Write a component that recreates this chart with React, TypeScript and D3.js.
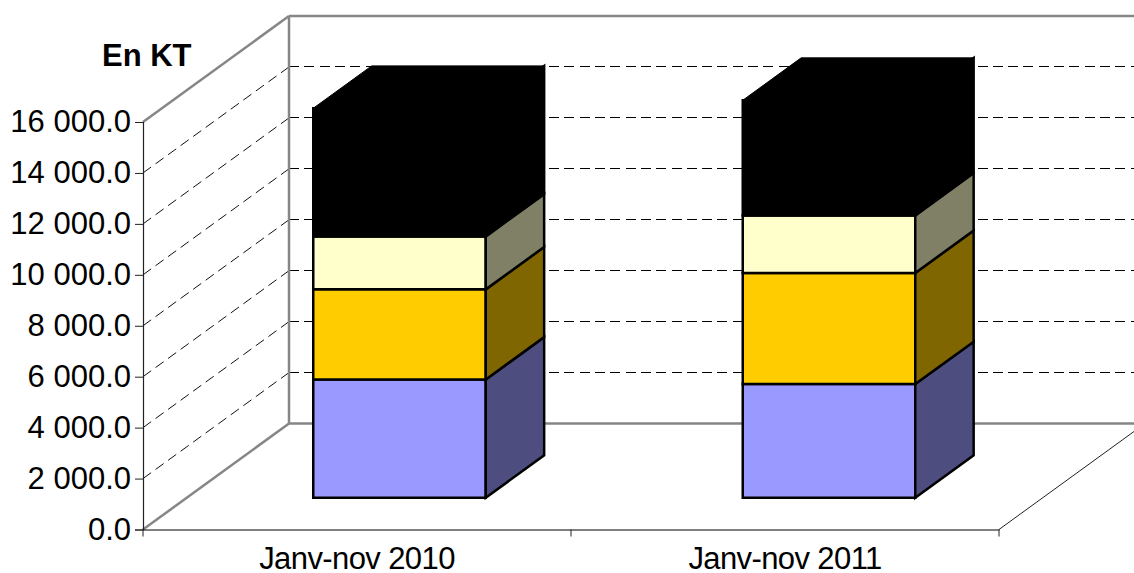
import * as d3 from "d3";
import { useEffect, useRef } from "react";

const categories = ["Janv-nov 2010", "Janv-nov 2011"];
const blue = [4640, 4460];
const orange = [3540, 4365];
const cream = [2080, 2260];
const black = [5030, 4520];
const yTicks = [0, 2000, 4000, 6000, 8000, 10000, 12000, 14000, 16000];

const width = 1134,
  height = 573;

// depth of the 3d box, the bars sit between 30% and 70% of it
const depthX = 146,
  depthY = 106,
  barNear = 0.3,
  barFar = 0.7;

const series = [
  { values: blue, front: "#9999ff", side: "#4d4d80" },
  { values: orange, front: "#ffcc00", side: "#806600" },
  { values: cream, front: "#ffffcc", side: "#808066" },
  { values: black, front: "#000000", side: "#000000" }
];

const locale = d3.formatLocale({
  decimal: ".",
  thousands: " ",
  grouping: [3],
  currency: ["", ""]
});

const App = () => {
  const ref = useRef<SVGSVGElement>(null);

  useEffect(() => {
    const svg = d3.select(ref.current);
    svg.selectAll("*").remove();

    const x = d3.scaleBand().domain(categories).range([143, 999]);
    // bar centres, a little off the band centres in the original
    const xBar = d3.scalePoint().domain(categories).range([399.5, 829]);
    const y = d3.scaleLinear().domain([0, 16000]).range([529.5, 122]);
    const yBar = (v: number, d: number) => y(v) - d * depthY;
    const left = x.range()[0],
      right = x.range()[1];

    const poly = (pts: number[][], fill: string, stroke: string, sw: number) =>
      svg
        .append("polygon")
        .attr("points", pts.map((p) => p.join(",")).join(" "))
        .attr("fill", fill)
        .attr("stroke", stroke)
        .attr("stroke-width", sw)
        .attr("stroke-linejoin", "miter");

    const line = (x1: number, y1: number, x2: number, y2: number) =>
      svg
        .append("line")
        .attr("x1", x1)
        .attr("y1", y1)
        .attr("x2", x2)
        .attr("y2", y2);

    // dashed grid on the side wall and the back wall
    yTicks.slice(1, -1).forEach((t) => {
      line(left, y(t), left + depthX, y(t) - depthY)
        .attr("stroke", "#111")
        .attr("stroke-width", 1)
        .attr("stroke-dasharray", "10 5.5");
      line(left + depthX, y(t) - depthY, width, y(t) - depthY)
        .attr("stroke", "#000")
        .attr("stroke-width", 1)
        .attr("shape-rendering", "crispEdges")
        .attr("stroke-dasharray", "10 5.3");
    });

    // walls
    const wall = "#868686";
    line(left, y(16000), left + depthX, y(16000) - depthY)
      .attr("stroke", wall)
      .attr("stroke-width", 2.5);
    line(left, y(0), left + depthX, y(0) - depthY)
      .attr("stroke", wall)
      .attr("stroke-width", 2.5);
    line(left + depthX, y(16000) - depthY, left + depthX, y(0) - depthY)
      .attr("stroke", wall)
      .attr("stroke-width", 2.5);
    line(left + depthX, y(16000) - depthY, width, y(16000) - depthY)
      .attr("stroke", wall)
      .attr("stroke-width", 2.5);
    line(left + depthX, y(0) - depthY, width, y(0) - depthY)
      .attr("stroke", wall)
      .attr("stroke-width", 2.5);

    // floor edge on the right
    line(right, y(0), right + depthX, y(0) - depthY)
      .attr("stroke", "#222")
      .attr("stroke-width", 1);

    // bars
    const barWidth = 172.5;
    categories.forEach((c, i) => {
      const x0 = xBar(c)! - barWidth / 2;
      const x1 = x0 + barWidth;
      const x2 = x1 + depthX * (barFar - barNear);
      const x3 = x0 + depthX * (barFar - barNear);
      let base = 0;
      series.forEach((s, k) => {
        const top = base + s.values[i];
        const isLast = k === series.length - 1;
        poly(
          [
            [x0, yBar(base, barNear)],
            [x1, yBar(base, barNear)],
            [x1, yBar(top, barNear)],
            [x0, yBar(top, barNear)]
          ],
          s.front,
          "#000",
          2.5
        );
        poly(
          [
            [x1, yBar(base, barNear)],
            [x2, yBar(base, barFar)],
            [x2, yBar(top, barFar)],
            [x1, yBar(top, barNear)]
          ],
          s.side,
          "#000",
          2.5
        );
        if (isLast) {
          poly(
            [
              [x0, yBar(top, barNear)],
              [x1, yBar(top, barNear)],
              [x2, yBar(top, barFar)],
              [x3, yBar(top, barFar)]
            ],
            "#000",
            "#000",
            1
          );
        }
        base = top;
      });
    });

    // value axis
    const yAxis = d3
      .axisLeft(y)
      .tickValues(yTicks)
      .tickSize(8)
      .tickPadding(4)
      .tickFormat((d) => locale.format(",.1f")(d as number));
    const gy = svg
      .append("g")
      .attr("transform", `translate(${left},0)`)
      .call(yAxis);
    gy.select(".domain").attr("stroke", "#222").attr("stroke-width", 1.2);
    gy.selectAll(".tick line").attr("stroke", "#222").attr("stroke-width", 1);
    gy.selectAll("text")
      .attr("font-family", "Liberation Sans")
      .attr("font-size", 31)
      .attr("fill", "#000");

    // category axis, labels centred, ticks on the band edges
    const xAxis = d3.axisBottom(x).tickSize(0).tickPadding(17);
    const gx = svg
      .append("g")
      .attr("transform", `translate(0,${y(0)})`)
      .call(xAxis);
    gx.select(".domain").attr("stroke", "#000").attr("stroke-width", 1);
    gx.selectAll("text")
      .attr("font-family", "Liberation Sans")
      .attr("font-size", 31)
      .attr("letter-spacing", -0.6)
      .attr("fill", "#000");
    [left, left + x.step(), right].forEach((tx) => {
      line(tx, y(0), tx, y(0) + 7)
        .attr("stroke", "#222")
        .attr("stroke-width", 1);
    });

    svg
      .append("text")
      .attr("x", 102)
      .attr("y", 66)
      .attr("font-family", "Liberation Sans")
      .attr("font-size", 31)
      .attr("font-weight", "bold")
      .attr("fill", "#000")
      .text("En KT");
  }, []);

  return (
    <svg
      ref={ref}
      width={width}
      height={height}
      style={{ position: "absolute", left: 0, top: 0, background: "#fff" }}
    />
  );
};

export default App;
